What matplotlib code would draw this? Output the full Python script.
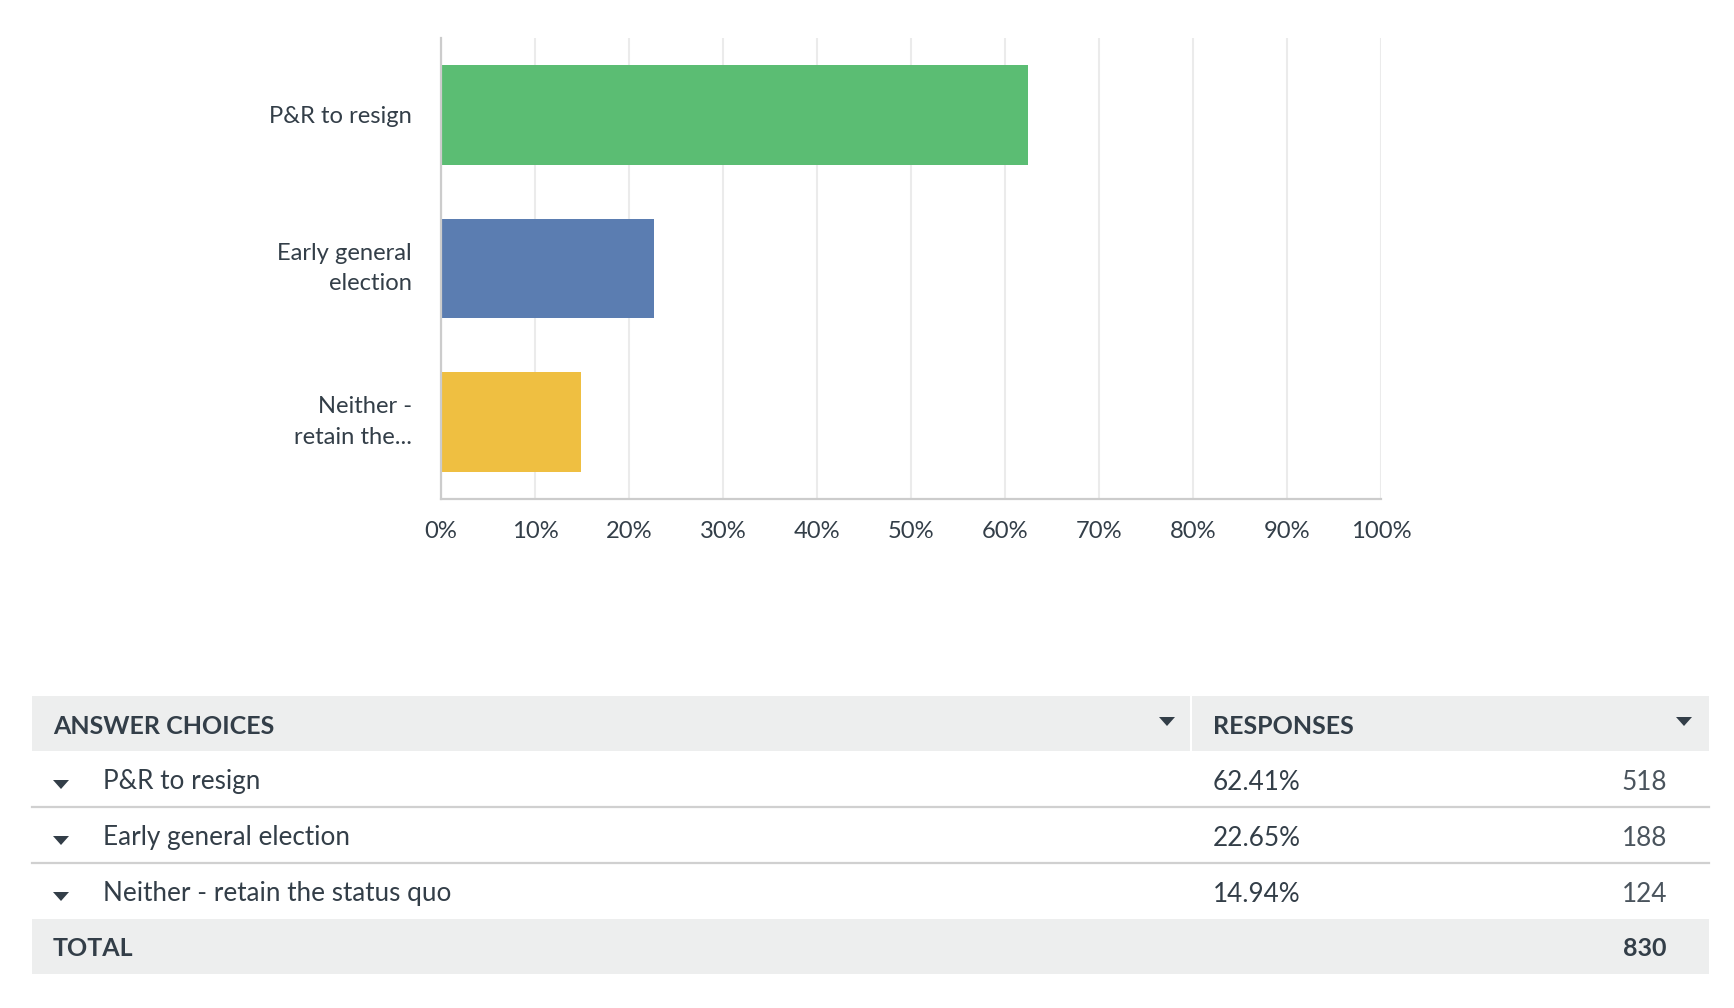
import matplotlib.pyplot as plt
from matplotlib.patches import Rectangle, Polygon

# chart data
bar_labels = ["P&R to resign", "Early general\nelection", "Neither -\nretain the..."]
choices = ["P&R to resign", "Early general election", "Neither - retain the status quo"]
percents = [62.41, 22.65, 14.94]
counts = [518, 188, 124]
total = 830
colors = ["#5bbd73", "#5b7db1", "#efbf41"]
ticks = [0, 10, 20, 30, 40, 50, 60, 70, 80, 90, 100]

W, H = 1734, 1008
txt = "#333e48"
plt.rcParams["font.family"] = ["Lato", "DejaVu Sans"]

fig = plt.figure(figsize=(W / 100, H / 100), dpi=100)

# bar chart
ax = fig.add_axes([441 / W, 1 - 499 / H, 940 / W, 461 / H])
ypos = list(range(len(percents)))
ax.barh(ypos, percents, height=0.65, color=colors, zorder=3)
ax.set_xlim(0, 100)
ax.set_ylim(2.5, -0.5)
ax.set_xticks(ticks)
ax.set_xticklabels([f"{t}%" for t in ticks], fontsize=17.1, color=txt)
ax.set_yticks(ypos)
ax.set_yticklabels(bar_labels, fontsize=17.1, color=txt, linespacing=1.55)
for lab in ax.get_yticklabels():
    if "\n" in lab.get_text():
        lab.set_va("center")
ax.tick_params(axis="x", length=0, pad=16)
ax.tick_params(axis="y", length=0, pad=21)
ax.grid(axis="x", color="#ebebeb", linewidth=1.5, zorder=0)
for s in ["top", "right"]:
    ax.spines[s].set_visible(False)
for s in ["left", "bottom"]:
    ax.spines[s].set_color("#cccccc")
    ax.spines[s].set_linewidth(1.6)
    ax.spines[s].set_zorder(4)

# table underneath, drawn in pixel coordinates
tb = fig.add_axes([0, 0, 1, 1])
tb.set_xlim(0, W)
tb.set_ylim(H, 0)
tb.axis("off")


def arrow(x, y):
    tb.add_patch(Polygon([(x - 8, y - 4), (x + 8, y - 4), (x, y + 5)], closed=True, color=txt, lw=0))


left, right, split = 32, 1709, 1191
grey = "#edeeee"
tb.add_patch(Rectangle((left, 696), split - left - 1, 55, color=grey, lw=0))
tb.add_patch(Rectangle((split + 1, 696), right - split - 1, 55, color=grey, lw=0))
tb.text(53, 726, "ANSWER CHOICES", fontsize=18, fontweight="bold", color=txt, va="center")
tb.text(1213, 726, "RESPONSES", fontsize=18, fontweight="bold", color=txt, va="center")
arrow(1167, 721)
arrow(1684, 721)

row_h = 56
for i, (c, p, n) in enumerate(zip(choices, percents, counts)):
    yc = 751 + row_h * i + row_h / 2 + 3
    arrow(61, yc + 2)
    tb.text(103, yc, c, fontsize=18.8, color=txt, va="center")
    tb.text(1213, yc, f"{p:.2f}%", fontsize=18.8, color=txt, va="center")
    tb.text(1667, yc, str(n), fontsize=18.8, color="#4a545d", va="center", ha="right")
    if i < len(choices) - 1:
        tb.plot([left, right], [751 + row_h * (i + 1)] * 2, color="#d0d0d0", lw=1.6)

ty = 751 + row_h * len(choices)
tb.add_patch(Rectangle((left, ty), right - left, 55, color=grey, lw=0))
tb.text(53, ty + 30, "TOTAL", fontsize=18, fontweight="bold", color=txt, va="center")
tb.text(1667, ty + 30, str(total), fontsize=18, fontweight="bold", color=txt, va="center", ha="right")

fig.savefig("out.png", dpi=100, facecolor="white")
